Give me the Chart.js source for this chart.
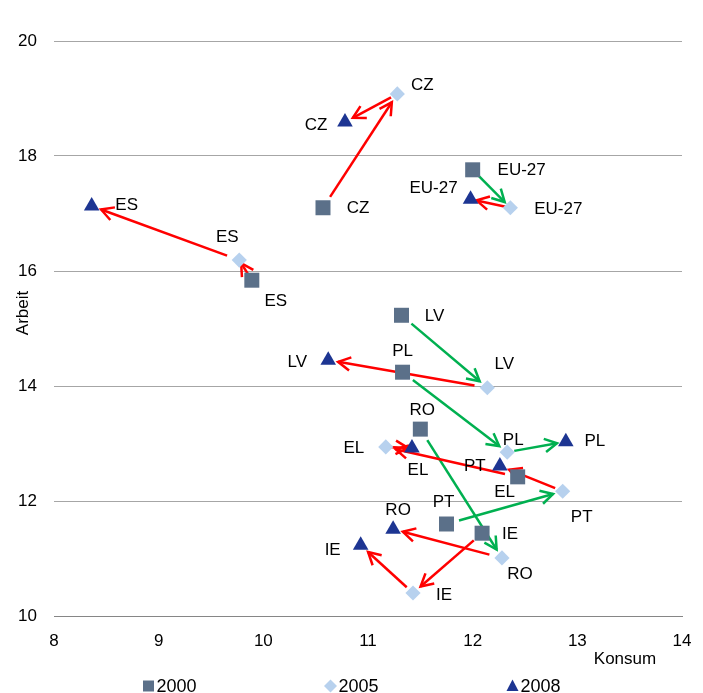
<!DOCTYPE html>
<html>
<head>
<meta charset="utf-8">
<script src="https://cdn.jsdelivr.net/npm/chart.js@4.4.1/dist/chart.umd.min.js"></script>
<style>
html,body{margin:0;padding:0;background:#fff;}
canvas{display:block;}
</style>
</head>
<body>
<canvas id="c" width="703" height="693"></canvas>
<script>
// ---------- DATA ----------
const countries = ['CZ', 'EU-27', 'ES', 'LV', 'PL', 'RO', 'EL', 'PT', 'IE'];
const years = ['2000', '2005', '2008'];

const konsum2000 = [10.57, 12.00, 9.89, 11.32, 11.33, 11.50, 12.43, 11.75, 12.09];
const arbeit2000 = [17.10, 17.76, 15.84, 15.23, 14.24, 13.25, 12.42, 11.60, 11.44];

const konsum2005 = [11.28, 12.36, 9.77, 12.14, 12.33, 12.28, 11.17, 12.86, 11.43];
const arbeit2005 = [19.08, 17.10, 16.19, 13.97, 12.85, 11.01, 12.94, 12.17, 10.40];

const konsum2008 = [10.78, 11.98, 8.36, 10.62, 12.89, 11.24, 11.42, 12.26, 10.93];
const arbeit2008 = [18.59, 17.25, 17.13, 14.45, 13.03, 11.51, 12.92, 12.61, 11.23];

// direction of change per step: 'g' = green arrow, 'r' = red arrow
const change2000to2005 = ['r', 'g', 'r', 'g', 'g', 'g', 'r', 'g', 'r'];
const change2005to2008 = ['r', 'r', 'r', 'r', 'g', 'r', 'r', 'r', 'r'];

const xTickValues = [8, 9, 10, 11, 12, 13, 14];
const yTickValues = [10, 12, 14, 16, 18, 20];
const xAxisTitle = 'Konsum';
const yAxisTitle = 'Arbeit';

// ---------- STYLE ----------
const FONT = '"Liberation Sans", Arial, Helvetica, sans-serif';
const colors2000 = '#5B7089';
const colors2005 = '#B7D1EE';
const colors2008 = '#1D3592';
const arrowColors = { r: '#FF0000', g: '#00B050' };

// label placement (pixel offsets of label centre from marker)
const labelPos2000 = [[35,1],[49,1],[24,21],[33,1],[0,-21],[2,-19],[-13,15],[-3,-22],[28,1]];
const labelPos2005 = [[25,-9],[48,2],[-12,-23],[17,-23],[6,-12],[18,16],[-32,1],[19,26],[31,2]];
const labelPos2008 = [[-29,3],[-37,-11],[35,-1],[-31,2],[29,0],[5,-19],[6,22],[-25,0],[-28,5]];
const labelPositions = [labelPos2000, labelPos2005, labelPos2008];

function pts(xs, ys) { return xs.map((x, i) => ({ x: x, y: ys[i] })); }

const datasets = [
  { label: years[0], data: pts(konsum2000, arbeit2000), pointStyle: 'rect', pointRadius: 10.6,
    backgroundColor: colors2000, borderColor: colors2000, borderWidth: 0 },
  { label: years[1], data: pts(konsum2005, arbeit2005), pointStyle: 'rectRot', pointRadius: 7.6,
    backgroundColor: colors2005, borderColor: colors2005, borderWidth: 0 },
  { label: years[2], data: pts(konsum2008, arbeit2008), pointStyle: 'triangle', pointRadius: 9,
    backgroundColor: colors2008, borderColor: colors2008, borderWidth: 0 }
];

function drawArrow(ctx, x1, y1, x2, y2, color) {
  const dx = x2 - x1, dy = y2 - y1, d = Math.hypot(dx, dy);
  if (d < 1) return;
  const ux = dx / d, uy = dy / d;
  const g1 = Math.min(13, d * 0.12), g2 = Math.min(10, d * 0.15);
  const sx = x1 + ux * g1, sy = y1 + uy * g1, ex = x2 - ux * g2, ey = y2 - uy * g2;
  ctx.strokeStyle = color;
  ctx.beginPath(); ctx.moveTo(sx, sy); ctx.lineTo(ex, ey); ctx.stroke();
  const ang = Math.atan2(ey - sy, ex - sx), L = 14, w = 0.5;
  ctx.beginPath();
  ctx.moveTo(ex - L * Math.cos(ang - w), ey - L * Math.sin(ang - w));
  ctx.lineTo(ex, ey);
  ctx.lineTo(ex - L * Math.cos(ang + w), ey - L * Math.sin(ang + w));
  ctx.stroke();
}

const arrowPlugin = {
  id: 'arrows',
  beforeDatasetsDraw(chart) {
    const ctx = chart.ctx;
    ctx.save();
    ctx.lineWidth = 2.5;
    ctx.lineCap = 'butt';
    ctx.lineJoin = 'miter';
    const steps = [[0, 1, change2000to2005], [1, 2, change2005to2008]];
    steps.forEach(([a, b, cols]) => {
      const ma = chart.getDatasetMeta(a).data, mb = chart.getDatasetMeta(b).data;
      countries.forEach((c, i) => {
        drawArrow(ctx, ma[i].x, ma[i].y, mb[i].x, mb[i].y, arrowColors[cols[i]]);
      });
    });
    ctx.restore();
  }
};

const labelPlugin = {
  id: 'pointLabels',
  afterDatasetsDraw(chart) {
    const ctx = chart.ctx;
    ctx.save();
    ctx.font = '17px ' + FONT;
    ctx.fillStyle = '#000';
    ctx.textAlign = 'center';
    ctx.textBaseline = 'middle';
    for (let k = 0; k < 3; k++) {
      const meta = chart.getDatasetMeta(k).data;
      countries.forEach((c, i) => {
        const off = labelPositions[k][i];
        ctx.fillText(c, meta[i].x + off[0], meta[i].y + off[1]);
      });
    }
    ctx.restore();
  }
};

const decorPlugin = {
  id: 'decor',
  afterDraw(chart) {
    const ctx = chart.ctx;
    const area = chart.chartArea;
    ctx.save();
    ctx.fillStyle = '#000';
    // axis titles
    ctx.font = '17px ' + FONT;
    ctx.textAlign = 'center';
    ctx.textBaseline = 'middle';
    ctx.fillText(xAxisTitle, area.right - 57, area.bottom + 43);
    ctx.save();
    ctx.translate(23, area.top + 272);
    ctx.rotate(-Math.PI / 2);
    ctx.fillText(yAxisTitle, 0, 0);
    ctx.restore();
    // legend
    const ly = 686;
    const items = [
      { x: 148.5, style: 'rect', color: colors2000 },
      { x: 330.5, style: 'rectRot', color: colors2005 },
      { x: 512.5, style: 'triangle', color: colors2008 }
    ];
    ctx.font = '18px ' + FONT;
    ctx.textAlign = 'left';
    items.forEach((it, i) => {
      ctx.fillStyle = it.color;
      ctx.beginPath();
      if (it.style === 'rect') {
        ctx.rect(it.x - 5.5, ly - 5.5, 11, 11);
      } else if (it.style === 'rectRot') {
        ctx.moveTo(it.x, ly - 6.5); ctx.lineTo(it.x + 6.5, ly); ctx.lineTo(it.x, ly + 6.5); ctx.lineTo(it.x - 6.5, ly);
        ctx.closePath();
      } else {
        ctx.moveTo(it.x, ly - 6.5); ctx.lineTo(it.x + 6, ly + 5); ctx.lineTo(it.x - 6, ly + 5);
        ctx.closePath();
      }
      ctx.fill();
      ctx.fillStyle = '#000';
      ctx.fillText(datasets[i].label, it.x + 8, ly + 1);
    });
    ctx.restore();
  }
};

new Chart(document.getElementById('c'), {
  type: 'scatter',
  data: { datasets: datasets },
  options: {
    responsive: false,
    animation: false,
    events: [],
    layout: { padding: { top: 41, right: 21, left: 0, bottom: 0 } },
    plugins: { legend: { display: false }, tooltip: { enabled: false } },
    scales: {
      x: {
        type: 'linear', min: 8, max: 14,
        afterBuildTicks: s => { s.ticks = xTickValues.map(v => ({ value: v })); },
        afterFit: s => { s.height = 77; },
        grid: { display: true, drawOnChartArea: false, drawTicks: true, tickLength: 15, color: 'rgba(0,0,0,0)' },
        border: { display: true, color: '#868686', width: 1 },
        ticks: { color: '#000', font: { family: FONT, size: 17 }, padding: 0, maxRotation: 0 }
      },
      y: {
        type: 'linear', min: 10, max: 20,
        afterBuildTicks: s => { s.ticks = yTickValues.map(v => ({ value: v })); },
        afterFit: s => { s.width = 54; },
        grid: { color: ctx => (ctx.tick && ctx.tick.value === 10) ? '#868686' : '#A6A6A6', drawTicks: false, lineWidth: 1 },
        border: { display: false },
        ticks: { color: '#000', font: { family: FONT, size: 17 }, padding: 17 }
      }
    }
  },
  plugins: [arrowPlugin, labelPlugin, decorPlugin]
});
</script>
</body>
</html>
